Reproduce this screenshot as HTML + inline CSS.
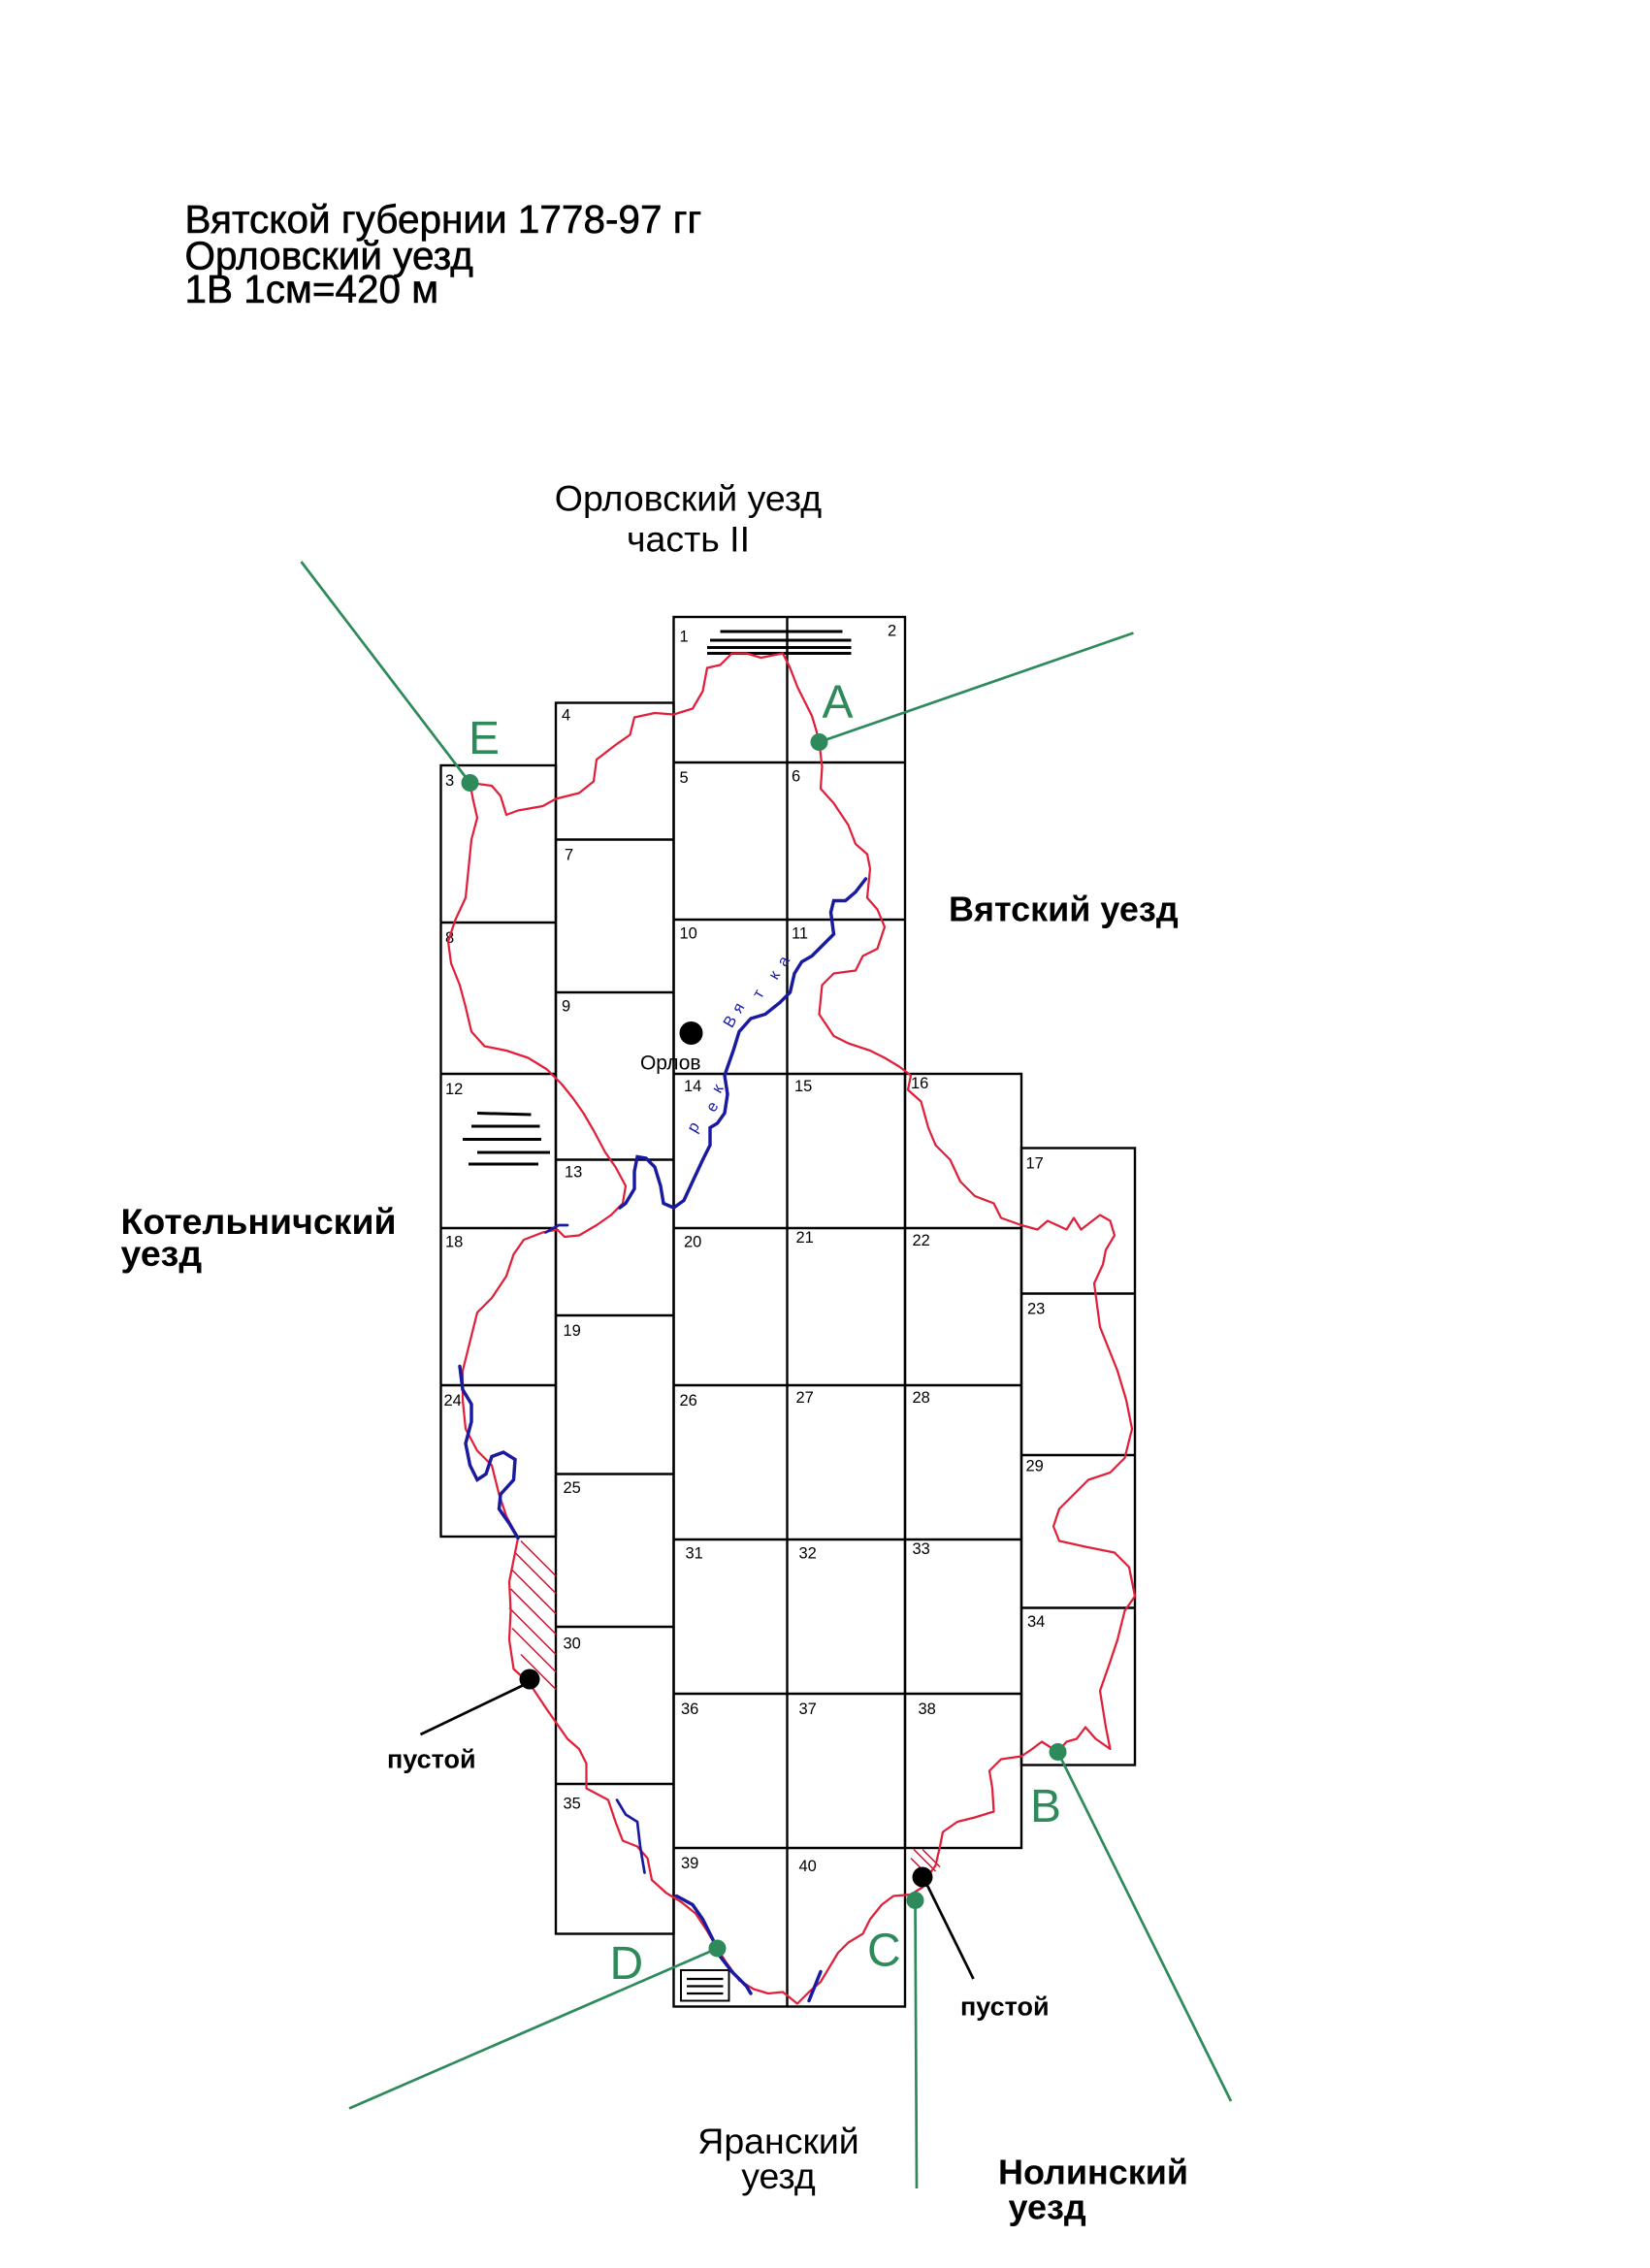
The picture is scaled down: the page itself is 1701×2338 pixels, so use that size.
<!DOCTYPE html>
<html><head><meta charset="utf-8"><style>html,body{margin:0;padding:0;background:#fff}svg{display:block}</style></head><body>
<svg width="1701" height="2338" viewBox="0 0 1134 1558.67" xmlns="http://www.w3.org/2000/svg" font-family="Liberation Sans, DejaVu Sans, sans-serif">
<rect width="1134" height="1559" fill="#fff"/>
<g transform="translate(-2,-3)">
<g fill="#000" font-size="27" stroke="#000" stroke-width="0.4">
<text x="129" y="163">Вятской губернии 1778-97 гг</text>
<text x="129" y="188">Орловский уезд</text>
<text x="129" y="211">1В 1см=420 м</text>
</g>
<g font-size="25" fill="#000" text-anchor="middle">
<text x="475" y="354">Орловский уезд</text>
<text x="475" y="382">часть II</text>
<text x="537" y="1483">Яранский</text>
<text x="537" y="1507">уезд</text>
</g>
<text x="654" y="636" font-size="24" font-weight="bold">Вятский уезд</text>
<text x="85" y="851" font-size="25" font-weight="bold">Котельничский</text>
<text x="85" y="873" font-size="25" font-weight="bold">уезд</text>
<text x="688" y="1504" font-size="24" font-weight="bold">Нолинский</text>
<text x="695" y="1528" font-size="24" font-weight="bold">уезд</text>
<text x="268" y="1218" font-size="18" font-weight="bold">пустой</text>
<text x="662" y="1388" font-size="18" font-weight="bold">пустой</text>
<text x="442" y="738" font-size="14">Орлов</text>

<g stroke="#000" stroke-width="1.6" fill="none">
<rect x="305" y="529" width="79" height="530"/>
<line x1="305" y1="637" x2="384" y2="637"/><line x1="305" y1="741" x2="384" y2="741"/><line x1="305" y1="847" x2="384" y2="847"/><line x1="305" y1="955" x2="384" y2="955"/>
<rect x="384" y="486" width="81" height="846"/>
<line x1="384" y1="580" x2="465" y2="580"/><line x1="384" y1="685" x2="465" y2="685"/><line x1="384" y1="800" x2="465" y2="800"/><line x1="384" y1="907" x2="465" y2="907"/><line x1="384" y1="1016" x2="465" y2="1016"/><line x1="384" y1="1121" x2="465" y2="1121"/><line x1="384" y1="1229" x2="465" y2="1229"/>
<rect x="465" y="427" width="159" height="955"/>
<line x1="543" y1="427" x2="543" y2="1382"/>
<line x1="465" y1="527" x2="624" y2="527"/><line x1="465" y1="635" x2="624" y2="635"/><line x1="465" y1="741" x2="624" y2="741"/><line x1="465" y1="847" x2="624" y2="847"/><line x1="465" y1="955" x2="624" y2="955"/><line x1="465" y1="1061" x2="624" y2="1061"/><line x1="465" y1="1167" x2="624" y2="1167"/><line x1="465" y1="1273" x2="624" y2="1273"/>
<rect x="624" y="741" width="80" height="532"/>
<line x1="624" y1="847" x2="704" y2="847"/><line x1="624" y1="955" x2="704" y2="955"/><line x1="624" y1="1061" x2="704" y2="1061"/><line x1="624" y1="1167" x2="704" y2="1167"/>
<rect x="704" y="792" width="78" height="424"/>
<line x1="704" y1="892" x2="782" y2="892"/><line x1="704" y1="1003" x2="782" y2="1003"/><line x1="704" y1="1108" x2="782" y2="1108"/>
</g>
<g font-size="11" fill="#000">
<text x="469" y="444">1</text><text x="612" y="440">2</text><text x="308" y="543">3</text><text x="388" y="498">4</text>
<text x="469" y="541">5</text><text x="546" y="540">6</text><text x="390" y="594">7</text><text x="308" y="651">8</text>
<text x="388" y="698">9</text><text x="469" y="648">10</text><text x="546" y="648">11</text><text x="308" y="755">12</text>
<text x="390" y="812">13</text><text x="472" y="753">14</text><text x="548" y="753">15</text><text x="628" y="751">16</text>
<text x="707" y="806">17</text><text x="308" y="860">18</text><text x="389" y="921">19</text><text x="472" y="860">20</text>
<text x="549" y="857">21</text><text x="629" y="859">22</text><text x="708" y="906">23</text><text x="307" y="969">24</text>
<text x="389" y="1029">25</text><text x="469" y="969">26</text><text x="549" y="967">27</text><text x="629" y="967">28</text>
<text x="707" y="1014">29</text><text x="389" y="1136">30</text><text x="473" y="1074">31</text><text x="551" y="1074">32</text>
<text x="629" y="1071">33</text><text x="708" y="1121">34</text><text x="389" y="1246">35</text><text x="470" y="1181">36</text>
<text x="551" y="1181">37</text><text x="633" y="1181">38</text><text x="470" y="1287">39</text><text x="551" y="1289">40</text>
</g>
<g stroke="#000" stroke-width="2">
<line x1="497" y1="437" x2="581" y2="437"/><line x1="490" y1="443" x2="587" y2="443"/><line x1="488" y1="448" x2="587" y2="448"/><line x1="488" y1="452" x2="587" y2="452"/>
<line x1="330" y1="768" x2="367" y2="769"/><line x1="326" y1="777" x2="373" y2="777"/><line x1="320" y1="786" x2="374" y2="786"/><line x1="330" y1="795" x2="380" y2="795"/><line x1="324" y1="803" x2="372" y2="803"/>
</g>
<rect x="470" y="1357" width="33" height="21" fill="none" stroke="#000" stroke-width="1.3"/>
<g stroke="#000" stroke-width="1.5"><line x1="474" y1="1363" x2="499" y2="1363"/><line x1="474" y1="1368" x2="499" y2="1368"/><line x1="474" y1="1373" x2="499" y2="1373"/></g>
<g stroke="#d01030" stroke-width="1">
<line x1="360" y1="1062" x2="384" y2="1086"/><line x1="356" y1="1070" x2="384" y2="1098"/><line x1="354" y1="1082" x2="384" y2="1112"/><line x1="353" y1="1095" x2="384" y2="1126"/><line x1="352" y1="1108" x2="384" y2="1140"/><line x1="354" y1="1122" x2="384" y2="1152"/><line x1="360" y1="1140" x2="384" y2="1164"/>
<line x1="630" y1="1274" x2="645" y2="1289"/><line x1="628" y1="1280" x2="640" y2="1292"/><line x1="636" y1="1274" x2="648" y2="1286"/>
</g>
<polyline fill="none" stroke="#e0203a" stroke-width="1.5" stroke-linejoin="round" points="325,541 340,543 346,550 350,563 358,560 375,557 384,552 400,548 410,540 412,525 425,515 435,508 438,496 452,493 465,494 478,490 485,478 488,462 497,460 505,452 515,452 525,455 540,452 545,462 550,475 555,485 560,495 563,505 565,513 567,530 566,545 575,555 585,570 590,583 598,590 600,600 598,620 605,628 610,640 605,655 595,660 590,670 575,672 567,680 565,700 575,715 585,720 600,725 610,730 620,736 628,742 626,752 635,760 640,778 645,790 655,800 662,815 672,825 685,830 690,840 704,845 715,848 722,842 735,848 740,840 745,848 758,838 765,842 768,852 762,862 760,872 754,885 756,900 758,915 764,930 770,945 776,965 780,985 775,1005 765,1015 750,1020 740,1030 730,1040 726,1052 730,1062 748,1066 768,1070 778,1080 782,1100 775,1110 770,1130 765,1145 758,1165 762,1190 765,1205 755,1198 748,1190 742,1198 735,1200 729,1207 718,1200 710,1206 704,1210 690,1212 682,1220 684,1232 685,1248 672,1252 660,1255 650,1262 648,1272 645,1285 640,1292 636,1300 628,1305 616,1306 608,1312 600,1322 595,1332 585,1338 578,1345 572,1355 566,1365 558,1372 550,1380 540,1372 530,1373 520,1370 510,1364 500,1350 495,1342 488,1330 480,1318 470,1310 460,1304 450,1295 447,1280 440,1272 430,1268 425,1255 420,1240 405,1232 405,1215 400,1205 392,1198 385,1188 378,1178 366,1160 355,1150 352,1130 353,1110 352,1090 355,1075 358,1060 350,1045 345,1030 340,1010 330,1000 322,985 320,965 320,945 325,925 330,905 340,895 350,880 355,865 362,855 375,850 385,848 390,853 400,852 412,845 422,838 430,830 432,818 425,805 418,795 410,780 403,768 396,758 388,748 378,738 365,730 350,725 335,722 326,712 322,695 318,680 312,665 310,650 315,635 322,620 324,600 326,580 330,565 327,552 325,541"/>
<g fill="none" stroke="#1a1aa0" stroke-width="2.3" stroke-linecap="round">
<polyline points="597,607 590,616 583,622 575,622 573,630 575,645 568,652 560,660 553,664 548,672 545,685 538,692 528,700 518,703 510,712 506,725 500,742 502,755 500,768 495,775 490,778 490,790 485,800 478,815 472,828 465,833 458,830 456,818 452,805 446,799 440,798 438,808 438,820 432,830 428,833"/>
<polyline points="377,850 386,845 392,845" stroke-width="1.8"/>
<polyline points="318,942 320,958 326,968 326,980 322,995 325,1010 330,1020 336,1016 340,1004 348,1001 356,1006 355,1020 346,1030 345,1040 352,1050 358,1060"/>
<polyline points="426,1240 432,1250 440,1255 442,1272 445,1290" stroke-width="1.8"/>
<polyline points="467,1306 478,1312 485,1322 492,1336 495,1345 505,1358 515,1368 518,1373"/>
<polyline points="558,1378 562,1368 566,1358"/>
</g>
<g fill="#1a1aa0" font-size="11">
<text transform="translate(480,782) rotate(-60)">р</text>
<text transform="translate(493,768) rotate(-60)">е</text>
<text transform="translate(497,755) rotate(-60)">к</text>
<text transform="translate(505,710) rotate(-60)">В</text>
<text transform="translate(511,700) rotate(-60)">я</text>
<text transform="translate(525,690) rotate(-60)">т</text>
<text transform="translate(536,677) rotate(-60)">к</text>
<text transform="translate(542,668) rotate(-60)">а</text>
</g>
<circle cx="477" cy="713" r="8" fill="#000"/>
<circle cx="366" cy="1157" r="7" fill="#000"/>
<line x1="364" y1="1160" x2="291" y2="1195" stroke="#000" stroke-width="1.8"/>
<circle cx="636" cy="1293" r="7" fill="#000"/>
<line x1="638" y1="1296" x2="671" y2="1363" stroke="#000" stroke-width="1.8"/>
<g stroke="#2e8a5a" stroke-width="1.8">
<line x1="209" y1="389" x2="325" y2="541"/>
<line x1="565" y1="513" x2="781" y2="438"/>
<line x1="729" y1="1207" x2="848" y2="1447"/>
<line x1="495" y1="1342" x2="242" y2="1452"/>
<line x1="631" y1="1309" x2="632" y2="1507"/>
</g>
<g fill="#2e8a5a">
<circle cx="325" cy="541" r="6"/><circle cx="565" cy="513" r="6"/><circle cx="729" cy="1207" r="6"/><circle cx="495" cy="1342" r="6"/><circle cx="631" cy="1309" r="6"/>
<g font-size="32">
<text x="567" y="496">A</text><text x="324" y="521">E</text><text x="710" y="1255">B</text><text x="421" y="1363">D</text><text x="598" y="1354">C</text>
</g>
</g>
</g>
</svg>
</body></html>
